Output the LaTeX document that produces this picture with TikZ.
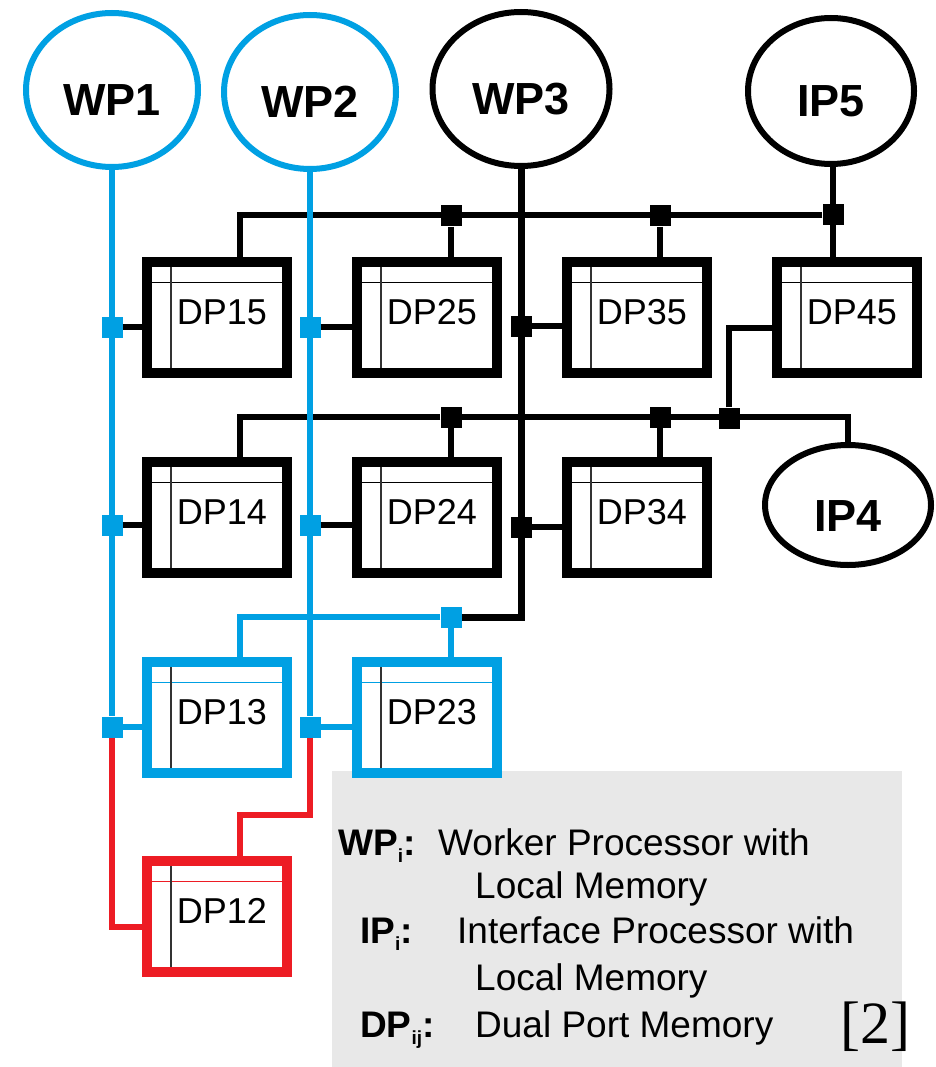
\documentclass[tikz,border=0pt]{standalone}
\usepackage{fontspec}
\setmainfont{Liberation Sans}
\newfontfamily\citefont{Liberation Serif}
\usepackage{xcolor}
\definecolor{wpblue}{HTML}{00A0E3}
\definecolor{wpred}{HTML}{ED1C24}
\definecolor{leggray}{HTML}{E8E8E8}
\usetikzlibrary{shapes.geometric}
\newcommand{\legsub}[1]{\raisebox{-7pt}{\fontsize{19}{19}\selectfont #1}}

\begin{document}
\begin{tikzpicture}[
  x=1pt, y=-1pt,
  proc/.style={draw=#1, ellipse, line width=6pt, fill=white, inner sep=0pt,
    font=\fontsize{45}{54}\selectfont\bfseries, text height=52pt, text depth=0pt},
  dpmem/.style={draw=#1, line width=10pt, fill=white, minimum width=140pt, minimum height=111pt,
    inner sep=0pt, font=\fontsize{36}{43}\selectfont, text width=100pt, align=right,
    text height=26pt, text depth=12pt,
    path picture={
      \draw[#1, line width=1.6pt] ([yshift=-21pt]path picture bounding box.north west) -- ([yshift=-21pt]path picture bounding box.north east);
      \draw[black!80, line width=1.6pt] ([xshift=24pt]path picture bounding box.north west) -- ([xshift=24pt]path picture bounding box.south west);
    }},
  junc/.style={fill=#1, minimum size=21pt, inner sep=0pt},
  bus/.style={line width=5.5pt},
  bluebus/.style={wpblue, line width=5.5pt},
  wpline/.style={wpblue, line width=6.5pt},
  redbus/.style={wpred, line width=6pt},
  legterm/.style={anchor=base west, inner sep=0pt, font=\fontsize{37}{44}\selectfont\bfseries},
  legtext/.style={anchor=base west, inner sep=0pt, font=\fontsize{37}{44}\selectfont},
]
\useasboundingbox (0,0) rectangle (935,1067);

% Legend background
\fill[leggray] (332,771) rectangle (902,1067);

% Processors
\node[proc=wpblue, minimum width=172pt, minimum height=154pt] (wp1) at (112,90) {WP1};
\node[proc=wpblue, minimum width=172pt, minimum height=154pt] (wp2) at (310,92) {WP2};
\node[proc=black, minimum width=177pt, minimum height=154pt] (wp3) at (521,89) {WP3};
\node[proc=black, minimum width=166pt, minimum height=146pt] (ip5) at (831,91) {IP5};
\node[proc=black, minimum width=166pt, minimum height=120pt] (ip4) at (848,505) {IP4};

% Dual port memories
\node[dpmem=black] (dp15) at (217,317) {DP15};
\node[dpmem=black] (dp25) at (427,317) {DP25};
\node[dpmem=black] (dp35) at (637,317) {DP35};
\node[dpmem=black] (dp45) at (847,317) {DP45};
\node[dpmem=black] (dp14) at (217,517) {DP14};
\node[dpmem=black] (dp24) at (427,517) {DP24};
\node[dpmem=black] (dp34) at (637,517) {DP34};
\node[dpmem=wpblue] (dp13) at (217,717) {DP13};
\node[dpmem=wpblue] (dp23) at (427,717) {DP23};
\node[dpmem=wpred] (dp12) at (217,916) {DP12};

% Junctions on the worker lines
\node[junc=wpblue] (j15) at (112,327) {};
\node[junc=wpblue] (j14) at (112,525) {};
\node[junc=wpblue] (j13) at (112,727) {};
\node[junc=wpblue] (j25) at (310,327) {};
\node[junc=wpblue] (j24) at (310,525) {};
\node[junc=wpblue] (j23) at (310,727) {};
\node[junc=black] (j35) at (521,326) {};
\node[junc=black] (j34) at (521,527) {};

% Junctions on the buses
\node[junc=black] (b25) at (451,216) {};
\node[junc=black] (b35) at (660,216) {};
\node[junc=black] (b45) at (833,215) {};
\node[junc=black] (b24) at (451,417) {};
\node[junc=black] (b34) at (660,417) {};
\node[junc=black] (b44) at (729,418) {};
\node[junc=wpblue] (b23) at (451,617) {};

% Top bus (IP5)
\draw[bus] (ip5.south -| b45) -- (b45 |- dp45.north);
\draw[bus] (b45) -| ([xshift=23pt]dp15.north);
\draw[bus] (b25) -- (b25 |- dp25.north);
\draw[bus] (b35) -- (b35 |- dp35.north);

% Middle bus (IP4)
\draw[bus] (ip4.north) |- (b24) -| ([xshift=23pt]dp14.north);
\draw[bus] (b24) -- (b24 |- dp24.north);
\draw[bus] (b34) -- (b34 |- dp34.north);
\draw[bus] (b44) |- ([yshift=-11pt]dp45.west);

% WP3 line
\draw[bus, line width=7pt] (wp3.south) |- (b23);
\draw[bus] (j35) -- (j35 -| dp35.west);
\draw[bus] (j34) -- (j34 -| dp34.west);

% Lower bus
\draw[bluebus] (b23) -| ([xshift=23pt]dp13.north);
\draw[bluebus] (b23) -- (b23 |- dp23.north);

% WP1 and WP2 lines
\draw[bus] (j15) -- (j15 -| dp15.west);
\draw[bus] (j14) -- (j14 -| dp14.west);
\draw[bus] (j25) -- (j25 -| dp25.west);
\draw[bus] (j24) -- (j24 -| dp24.west);
\draw[wpline] (wp1.south) -- (j13);
\draw[wpline] (wp2.south) -- (j23);
\draw[bluebus] (j13) -- (j13 -| dp13.west);
\draw[bluebus] (j23) -- (j23 -| dp23.west);

% DP12 links
\coordinate (r12) at (240,815);
\draw[redbus] (j13) |- ([yshift=-11pt]dp12.west);
\draw[redbus] (j23) |- (r12) -- (r12 |- dp12.north);

% Legend
\node[legterm] (twp) at (338,855) {WP\legsub{i}:};
\node[legtext] (dwp) at (438,855) {Worker Processor with};
\node[legtext] (dwp2) at (475,898) {Local Memory};
\node[legterm] (tip) at (360,943) {IP\legsub{i}:};
\node[legtext] (dip) at (457,943) {Interface Processor with};
\node[legtext] (dip2) at (475,990) {Local Memory};
\node[legterm] (tdp) at (360,1037) {DP\legsub{ij}:};
\node[legtext] (ddp) at (475,1037) {Dual Port Memory};
\node[anchor=base west, inner sep=0pt, font=\citefont\fontsize{60}{62}\selectfont] (cite) at (840,1043) {[2]};

\end{tikzpicture}
\end{document}
